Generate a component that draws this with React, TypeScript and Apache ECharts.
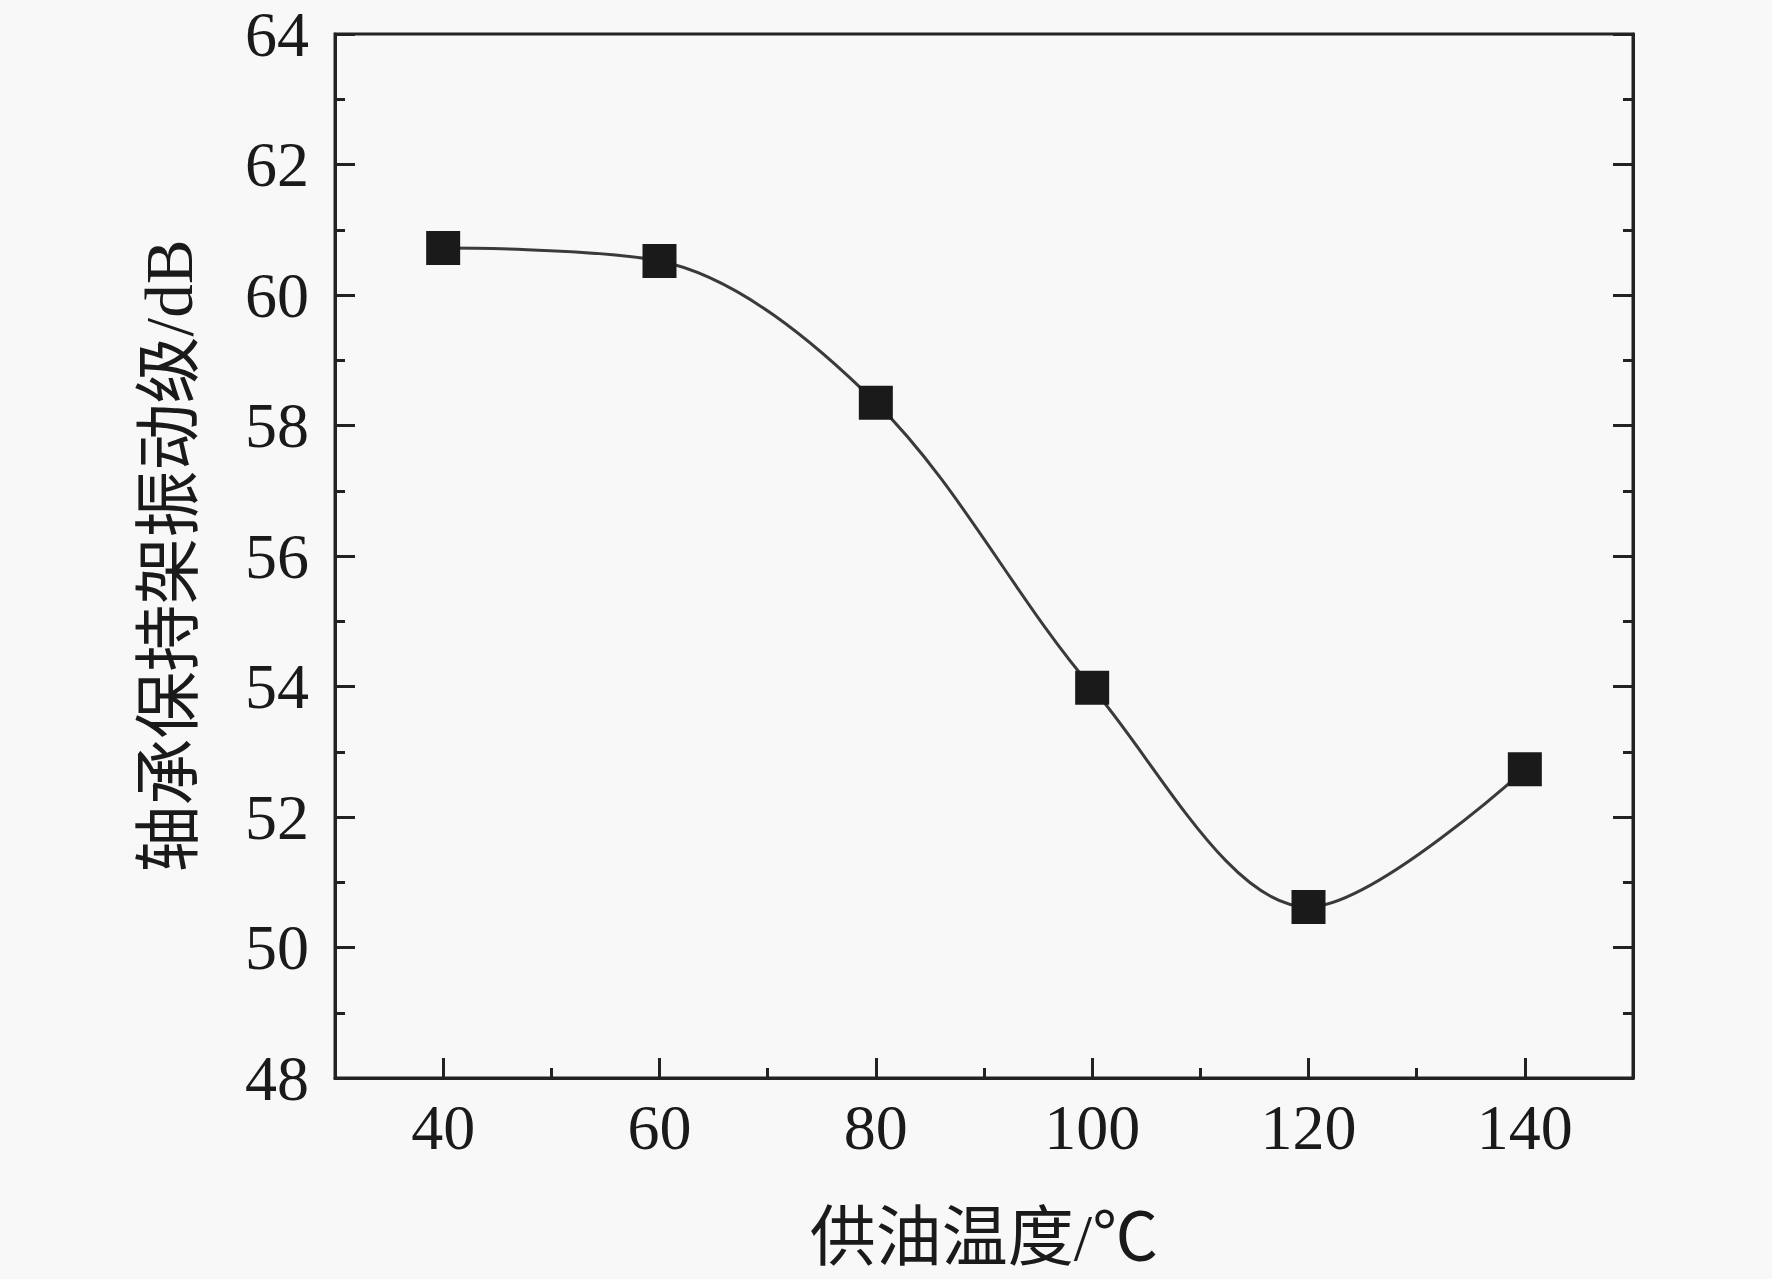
import React, { useEffect, useRef } from "react";
import * as echarts from "echarts";

const temps = [40, 60, 80, 100, 120, 140];
const levels = [60.72, 60.52, 58.35, 53.98, 50.62, 52.73];
const xMajorTicks = [40, 60, 80, 100, 120, 140];
const xMinorTicks = [50, 70, 90, 110, 130];
const xName = "供油温度/℃";
const yName = "轴承保持架振动级/dB";

const FONT = "'Liberation Serif', 'Noto Sans CJK SC', serif";
const INK = "#1a1a1a";
const AXIS = "#222";

export default function App() {
  const ref = useRef<HTMLDivElement>(null);
  useEffect(() => {
    if (!ref.current) return;
    const chart = echarts.init(ref.current, undefined, { renderer: "svg" });
    const axisLine = { show: true, lineStyle: { color: AXIS, width: 3 } };
    chart.setOption({
      animation: false,
      backgroundColor: "#f8f8f8",
      grid: {
        left: 335,
        right: 139,
        top: 34,
        bottom: 201,
        show: true,
        borderColor: AXIS,
        borderWidth: 3,
        backgroundColor: "transparent",
      },
      xAxis: [
        {
          type: "value",
          min: 30,
          max: 150,
          position: "bottom",
          axisLine,
          splitLine: { show: false },
          axisTick: {
            show: true,
            inside: true,
            length: 20,
            customValues: xMajorTicks,
            lineStyle: { color: AXIS, width: 3 },
          },
          axisLabel: {
            customValues: xMajorTicks,
            margin: 17,
            fontFamily: FONT,
            fontSize: 64,
            color: INK,
          },
          name: xName,
          nameLocation: "middle",
          nameGap: 126,
          nameTextStyle: { fontFamily: FONT, fontSize: 66, color: INK },
        },
        {
          type: "value",
          min: 30,
          max: 150,
          position: "bottom",
          axisLine: { show: false },
          splitLine: { show: false },
          axisTick: {
            show: true,
            inside: true,
            length: 10,
            customValues: xMinorTicks,
            lineStyle: { color: AXIS, width: 3 },
          },
          axisLabel: { show: false },
        },
      ],
      yAxis: [
        {
          type: "value",
          min: 48,
          max: 64,
          interval: 2,
          position: "left",
          axisLine,
          splitLine: { show: false },
          axisTick: { show: true, inside: true, length: 20, lineStyle: { color: AXIS, width: 3 } },
          minorTick: { show: true, splitNumber: 2, length: 10, lineStyle: { color: AXIS, width: 3 } },
          axisLabel: { margin: 26, fontFamily: FONT, fontSize: 64, color: INK },
          name: yName,
          nameLocation: "middle",
          nameGap: 133,
          nameTextStyle: { fontFamily: FONT, fontSize: 67, color: INK },
        },
        {
          type: "value",
          min: 48,
          max: 64,
          interval: 2,
          position: "right",
          axisLine,
          splitLine: { show: false },
          axisTick: { show: true, inside: true, length: 20, lineStyle: { color: AXIS, width: 3 } },
          minorTick: { show: true, splitNumber: 2, length: 10, lineStyle: { color: AXIS, width: 3 } },
          axisLabel: { show: false },
        },
      ],
      series: [
        {
          type: "line",
          xAxisIndex: 0,
          yAxisIndex: 0,
          data: temps.map((t, i) => [t, levels[i]]),
          smooth: 0.33,
          symbol: "rect",
          symbolSize: 34,
          itemStyle: { color: INK },
          lineStyle: { color: "#3a3a3a", width: 3 },
          z: 3,
        },
      ],
    });
    return () => chart.dispose();
  }, []);
  return (
    <div
      ref={ref}
      style={{ position: "fixed", left: 0, top: 0, width: 1772, height: 1279, background: "#f8f8f8" }}
    />
  );
}
